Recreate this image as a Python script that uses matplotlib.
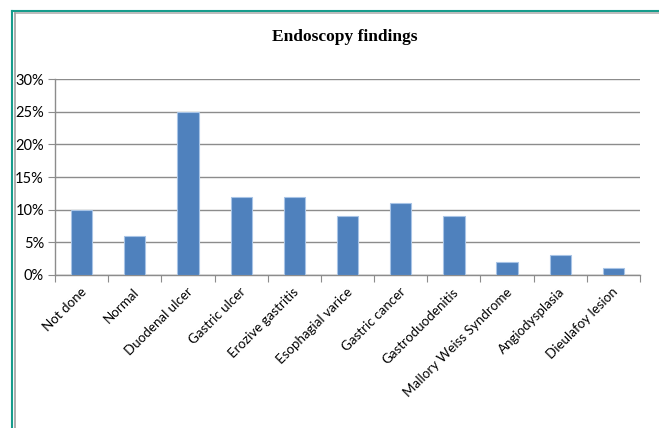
import matplotlib
matplotlib.use("Agg")
import matplotlib.pyplot as plt
from matplotlib.lines import Line2D
from matplotlib.ticker import FuncFormatter, MultipleLocator

categories = ["Not done", "Normal", "Duodenal ulcer", "Gastric ulcer",
              "Erozive gastritis", "Esophagial varice", "Gastric cancer",
              "Gastroduodenitis", "Mallory Weiss Syndrome", "Angiodysplasia",
              "Dieulafoy lesion"]
percentages = [10, 6, 25, 12, 12, 9, 11, 9, 2, 3, 1]

W, H = 659, 428
fig = plt.figure(figsize=(W / 100, H / 100), dpi=100)

# Frame lines around the chart (teal outer, grey inner)
def px_line(x0, y0, x1, y1, color, lw):
    fig.add_artist(Line2D([x0 / W, x1 / W], [1 - y0 / H, 1 - y1 / H],
                          transform=fig.transFigure, color=color, lw=lw))

px_line(11.5, 10.5, W, 10.5, "#169c8c", 1.5)
px_line(11.5, 10.5, 11.5, H, "#169c8c", 1.5)
px_line(14.5, 13, W, 13, "#b0b0b0", 1.2)
px_line(14.5, 13, 14.5, H, "#a0a0a0", 1.2)

ax = fig.add_axes([55 / W, 1 - 275 / H, (640 - 55) / W, (275 - 79) / H])
x = list(range(len(categories)))
ax.bar(x, percentages, width=0.4, color="#4f81bd", edgecolor="#a8c4e6",
       linewidth=0.8, zorder=3)

ax.set_xlim(-0.5, len(categories) - 0.5)
ax.set_ylim(0, 30)
ax.yaxis.set_major_locator(MultipleLocator(5))
ax.yaxis.set_major_formatter(FuncFormatter(lambda v, p: f"{int(v)}%"))
ax.grid(axis="y", color="#8c8c8c", lw=1.0, zorder=0)
ax.set_axisbelow(True)

for s in ["top", "right"]:
    ax.spines[s].set_visible(False)
for s in ["left", "bottom"]:
    ax.spines[s].set_color("#8c8c8c")
    ax.spines[s].set_linewidth(1.0)

ax.tick_params(axis="y", length=5, color="#8c8c8c", labelsize=10.5, pad=3,
               labelcolor="#000000")
ax.set_xticks([i - 0.5 for i in range(len(categories) + 1)], minor=False)
ax.set_xticklabels([])
ax.tick_params(axis="x", length=5, color="#8c8c8c")
for lbl in ax.get_yticklabels():
    lbl.set_fontfamily(["Lato", "DejaVu Sans"])

for i, name in enumerate(categories):
    ax.text(i + 0.05, -2.3, name, rotation=45, rotation_mode="anchor",
            ha="right", va="center", fontsize=9.6,
            family=["Lato", "DejaVu Sans"], transform=ax.transData)

fig.text(345 / W, 1 - 37 / H, "Endoscopy findings", ha="center",
         va="center", fontsize=12.5, fontweight="bold",
         family=["Liberation Serif", "DejaVu Serif"])

fig.savefig("out.png", dpi=100)
